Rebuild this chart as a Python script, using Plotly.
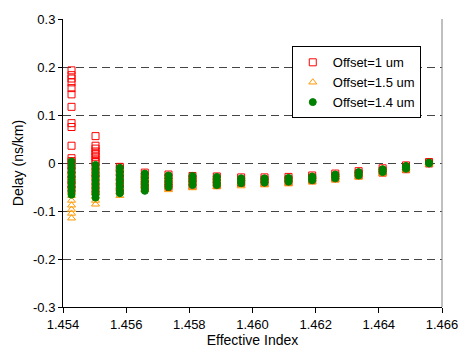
import plotly.graph_objects as go

# Column positions (effective index)
n_eff = [1.45427, 1.45503, 1.45580, 1.45659, 1.45734, 1.45810, 1.45887, 1.45964,
         1.46038, 1.46114, 1.46189, 1.46262, 1.46336, 1.46412, 1.46486, 1.46559]

# Delay values (ns/km) per column for each offset
delay_1um = [
    [0.193, 0.183, 0.176, 0.168, 0.156, 0.143, 0.117, 0.083, 0.075, 0.036, 0.010, 0.004,
     -0.005, -0.015, -0.025, -0.035, -0.045, -0.055],
    [0.056, 0.036, 0.030, 0.024, 0.019, 0.013, 0.007, 0.002, -0.008, -0.020, -0.030, -0.045, -0.060],
    [-0.008, -0.012, -0.020, -0.030, -0.040, -0.050, -0.058],
    [-0.020, -0.028, -0.036, -0.045, -0.052],
    [-0.024, -0.030, -0.038, -0.046, -0.050],
    [-0.027, -0.033, -0.040, -0.047],
    [-0.028, -0.034, -0.040, -0.046],
    [-0.030, -0.036, -0.042],
    [-0.030, -0.035, -0.041],
    [-0.029, -0.034, -0.039],
    [-0.026, -0.031, -0.036],
    [-0.022, -0.027, -0.032],
    [-0.017, -0.022, -0.026],
    [-0.011, -0.016, -0.020],
    [-0.005, -0.009, -0.013],
    [0.002, -0.001],
]
delay_15um = [
    [-0.115, -0.105, -0.097, -0.088, -0.078, -0.068, -0.060, -0.050, -0.040, -0.030, -0.020],
    [-0.086, -0.078, -0.070, -0.060, -0.050, -0.040, -0.030, -0.020, -0.010],
    [-0.068, -0.060, -0.050, -0.040, -0.030, -0.020, -0.012],
    [-0.056, -0.048, -0.040, -0.032, -0.025],
    [-0.056, -0.048, -0.040, -0.032, -0.026],
    [-0.052, -0.045, -0.038, -0.030],
    [-0.050, -0.043, -0.036, -0.030],
    [-0.048, -0.041, -0.034],
    [-0.046, -0.040, -0.033],
    [-0.044, -0.038, -0.031],
    [-0.040, -0.034, -0.028],
    [-0.036, -0.030, -0.025],
    [-0.030, -0.024, -0.019],
    [-0.023, -0.017, -0.012],
    [-0.015, -0.010, -0.005],
    [-0.003, 0.000],
]
delay_14um = [
    [0.003, -0.005, -0.012, -0.020, -0.028, -0.035, -0.042, -0.050, -0.058, -0.066],
    [-0.004, -0.012, -0.020, -0.028, -0.036, -0.044, -0.052, -0.060, -0.066, -0.072],
    [-0.010, -0.018, -0.026, -0.034, -0.042, -0.050, -0.058, -0.063],
    [-0.022, -0.030, -0.038, -0.045, -0.052, -0.058],
    [-0.026, -0.032, -0.038, -0.044, -0.050],
    [-0.027, -0.033, -0.039, -0.046],
    [-0.029, -0.035, -0.041, -0.046],
    [-0.032, -0.037, -0.042],
    [-0.032, -0.036, -0.041],
    [-0.031, -0.035, -0.039],
    [-0.028, -0.032, -0.036],
    [-0.024, -0.028, -0.032],
    [-0.019, -0.022, -0.026],
    [-0.013, -0.016, -0.019],
    [-0.006, -0.009, -0.012],
    [0.001, -0.001],
]

series_names = ["Offset=1 um", "Offset=1.5 um", "Offset=1.4 um"]
x_ticks = [1.454, 1.456, 1.458, 1.460, 1.462, 1.464, 1.466]
y_ticks = [-0.3, -0.2, -0.1, 0, 0.1, 0.2, 0.3]
y_tick_text = ["-0.3", "-0.2", "-0.1", "0", "0.1", "0.2", "0.3"]


def flatten(cols):
    xs, ys = [], []
    for xv, vals in zip(n_eff, cols):
        for v in vals:
            xs.append(xv)
            ys.append(v)
    return xs, ys


fig = go.Figure()
styles = [
    dict(symbol="square-open", color="#FF0000", size=7),
    dict(symbol="triangle-up-open", color="#FF9900", size=7),
    dict(symbol="circle", color="#008000", size=7),
]
for name, cols, st in zip(series_names, [delay_1um, delay_15um, delay_14um], styles):
    xs, ys = flatten(cols)
    fig.add_trace(go.Scatter(
        x=xs, y=ys, mode="markers", name=name,
        marker=dict(symbol=st["symbol"], color=st["color"], size=st["size"],
                    line=dict(color=st["color"], width=1)),
    ))

fam = "Arial, Liberation Sans, sans-serif"
tick_font = dict(family=fam, size=13, color="#000000")
title_font = dict(family=fam, size=14, color="#000000")
legend_font = dict(family=fam, size=13, color="#000000")

fig.update_layout(
    width=470, height=355,
    margin=dict(l=63, r=16, t=16, b=45),
    paper_bgcolor="white", plot_bgcolor="white",
    font=tick_font,
    showlegend=True,
    legend=dict(x=0.944, y=0.905, xanchor="right", yanchor="top",
                bgcolor="white", bordercolor="#000000", borderwidth=1,
                font=legend_font, tracegroupgap=0, itemwidth=30),
    xaxis=dict(
        range=[1.454, 1.466], tickvals=x_ticks, tickformat=".3f",
        showgrid=False, zeroline=False,
        showline=True, linecolor="#000000", linewidth=1,
        ticks="outside", ticklen=5, tickcolor="#000000",
        tickfont=tick_font, ticklabeloverflow="allow",
        title=dict(text="Effective Index", font=title_font, standoff=2),
    ),
    yaxis=dict(
        range=[-0.3, 0.3], tickvals=y_ticks, ticktext=y_tick_text,
        showgrid=True, gridcolor="#444444", gridwidth=1, griddash="8px,5px",
        zeroline=False,
        showline=True, linecolor="#000000", linewidth=1,
        ticks="outside", ticklen=4, tickcolor="#000000",
        tickfont=tick_font,
        title=dict(text="Delay (ns/km)", font=title_font, standoff=6),
    ),
)

# right border of plot area (gray)
fig.add_shape(type="line", xref="paper", yref="paper", x0=1, x1=1, y0=0, y1=1,
              line=dict(color="#808080", width=1))

fig.write_html("out.html")
